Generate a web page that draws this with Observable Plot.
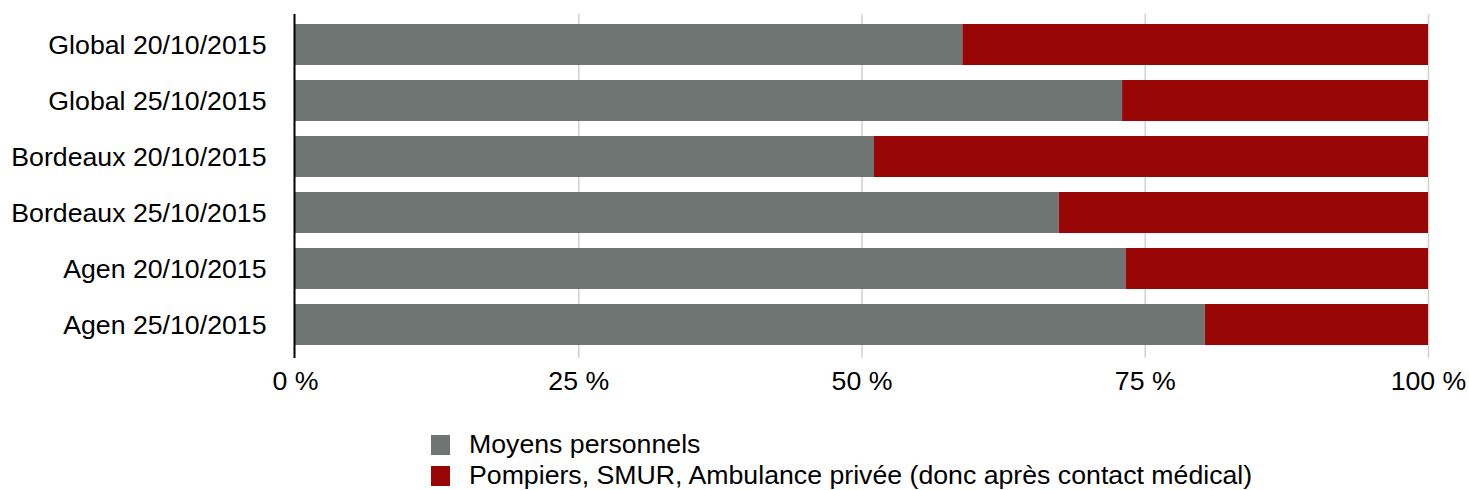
<!DOCTYPE html>
<html>
<head>
<meta charset="utf-8">
<script src="https://cdn.jsdelivr.net/npm/d3@7"></script>
<script src="https://cdn.jsdelivr.net/npm/@observablehq/plot@0.6"></script>
<style>
  html, body { margin: 0; padding: 0; background: #fff; }
  body { width: 1469px; font-family: "Liberation Sans", Arial, Helvetica, sans-serif; }
  #legend { margin-top: 19px; padding-left: 431px; font-size: 26.7px; color: #000; }
  .row { display: flex; align-items: center; height: 31px; line-height: 31px; }
  .sw { width: 19px; height: 20px; margin-right: 19px; flex: none; }
</style>
</head>
<body>
<div id="chart"></div>
<div id="legend"></div>
<script>
const categories = [
  "Global 20/10/2015",
  "Global 25/10/2015",
  "Bordeaux 20/10/2015",
  "Bordeaux 25/10/2015",
  "Agen 20/10/2015",
  "Agen 25/10/2015"
];
const seriesNames = [
  "Moyens personnels",
  "Pompiers, SMUR, Ambulance privée (donc après contact médical)"
];
const moyensPersonnels = [58.9, 73.0, 51.1, 67.4, 73.3, 80.3];
const pompiersSmur = [41.1, 27.0, 48.9, 32.6, 26.7, 19.7];
const seriesColors = ["#6f7572", "#980606"];
const xTicks = [0, 25, 50, 75, 100];

const data = [];
[moyensPersonnels, pompiersSmur].forEach((vals, s) => {
  vals.forEach((v, i) => data.push({category: categories[i], series: seriesNames[s], value: v}));
});

const chart = Plot.plot({
  width: 1469,
  height: 410,
  marginLeft: 295,
  marginRight: 41,
  marginTop: 14,
  marginBottom: 52,
  style: {fontFamily: '"Liberation Sans", Arial, Helvetica, sans-serif', fontSize: "26.7px", color: "#000", background: "#fff"},
  x: {domain: [0, 100], ticks: xTicks, tickFormat: d => d + " %", label: null},
  y: {domain: categories, paddingInner: 0.268, paddingOuter: 0.134, insetTop: 2, insetBottom: 6, label: null},
  color: {domain: seriesNames, range: seriesColors},
  marks: [
    Plot.ruleX(xTicks.filter(d => d > 0), {stroke: "#d0d0d0", strokeWidth: 1.5}),
    Plot.barX(data, Plot.stackX({x: "value", y: "category", fill: "series"})),
    Plot.ruleX([0], {stroke: "#000", strokeWidth: 2, dx: -1}),
    Plot.axisX({ticks: xTicks, tickFormat: d => d + " %", tickSize: 0, tickPadding: 13, fontSize: 26.7, label: null}),
    Plot.axisY({tickSize: 0, tickPadding: 29, fontSize: 26.7, label: null})
  ]
});
document.getElementById("chart").appendChild(chart);

const legend = document.getElementById("legend");
seriesNames.forEach((name, i) => {
  const row = document.createElement("div");
  row.className = "row";
  const sw = document.createElement("span");
  sw.className = "sw";
  sw.style.background = seriesColors[i];
  const label = document.createElement("span");
  label.textContent = name;
  row.appendChild(sw);
  row.appendChild(label);
  legend.appendChild(row);
});
</script>
</body>
</html>
